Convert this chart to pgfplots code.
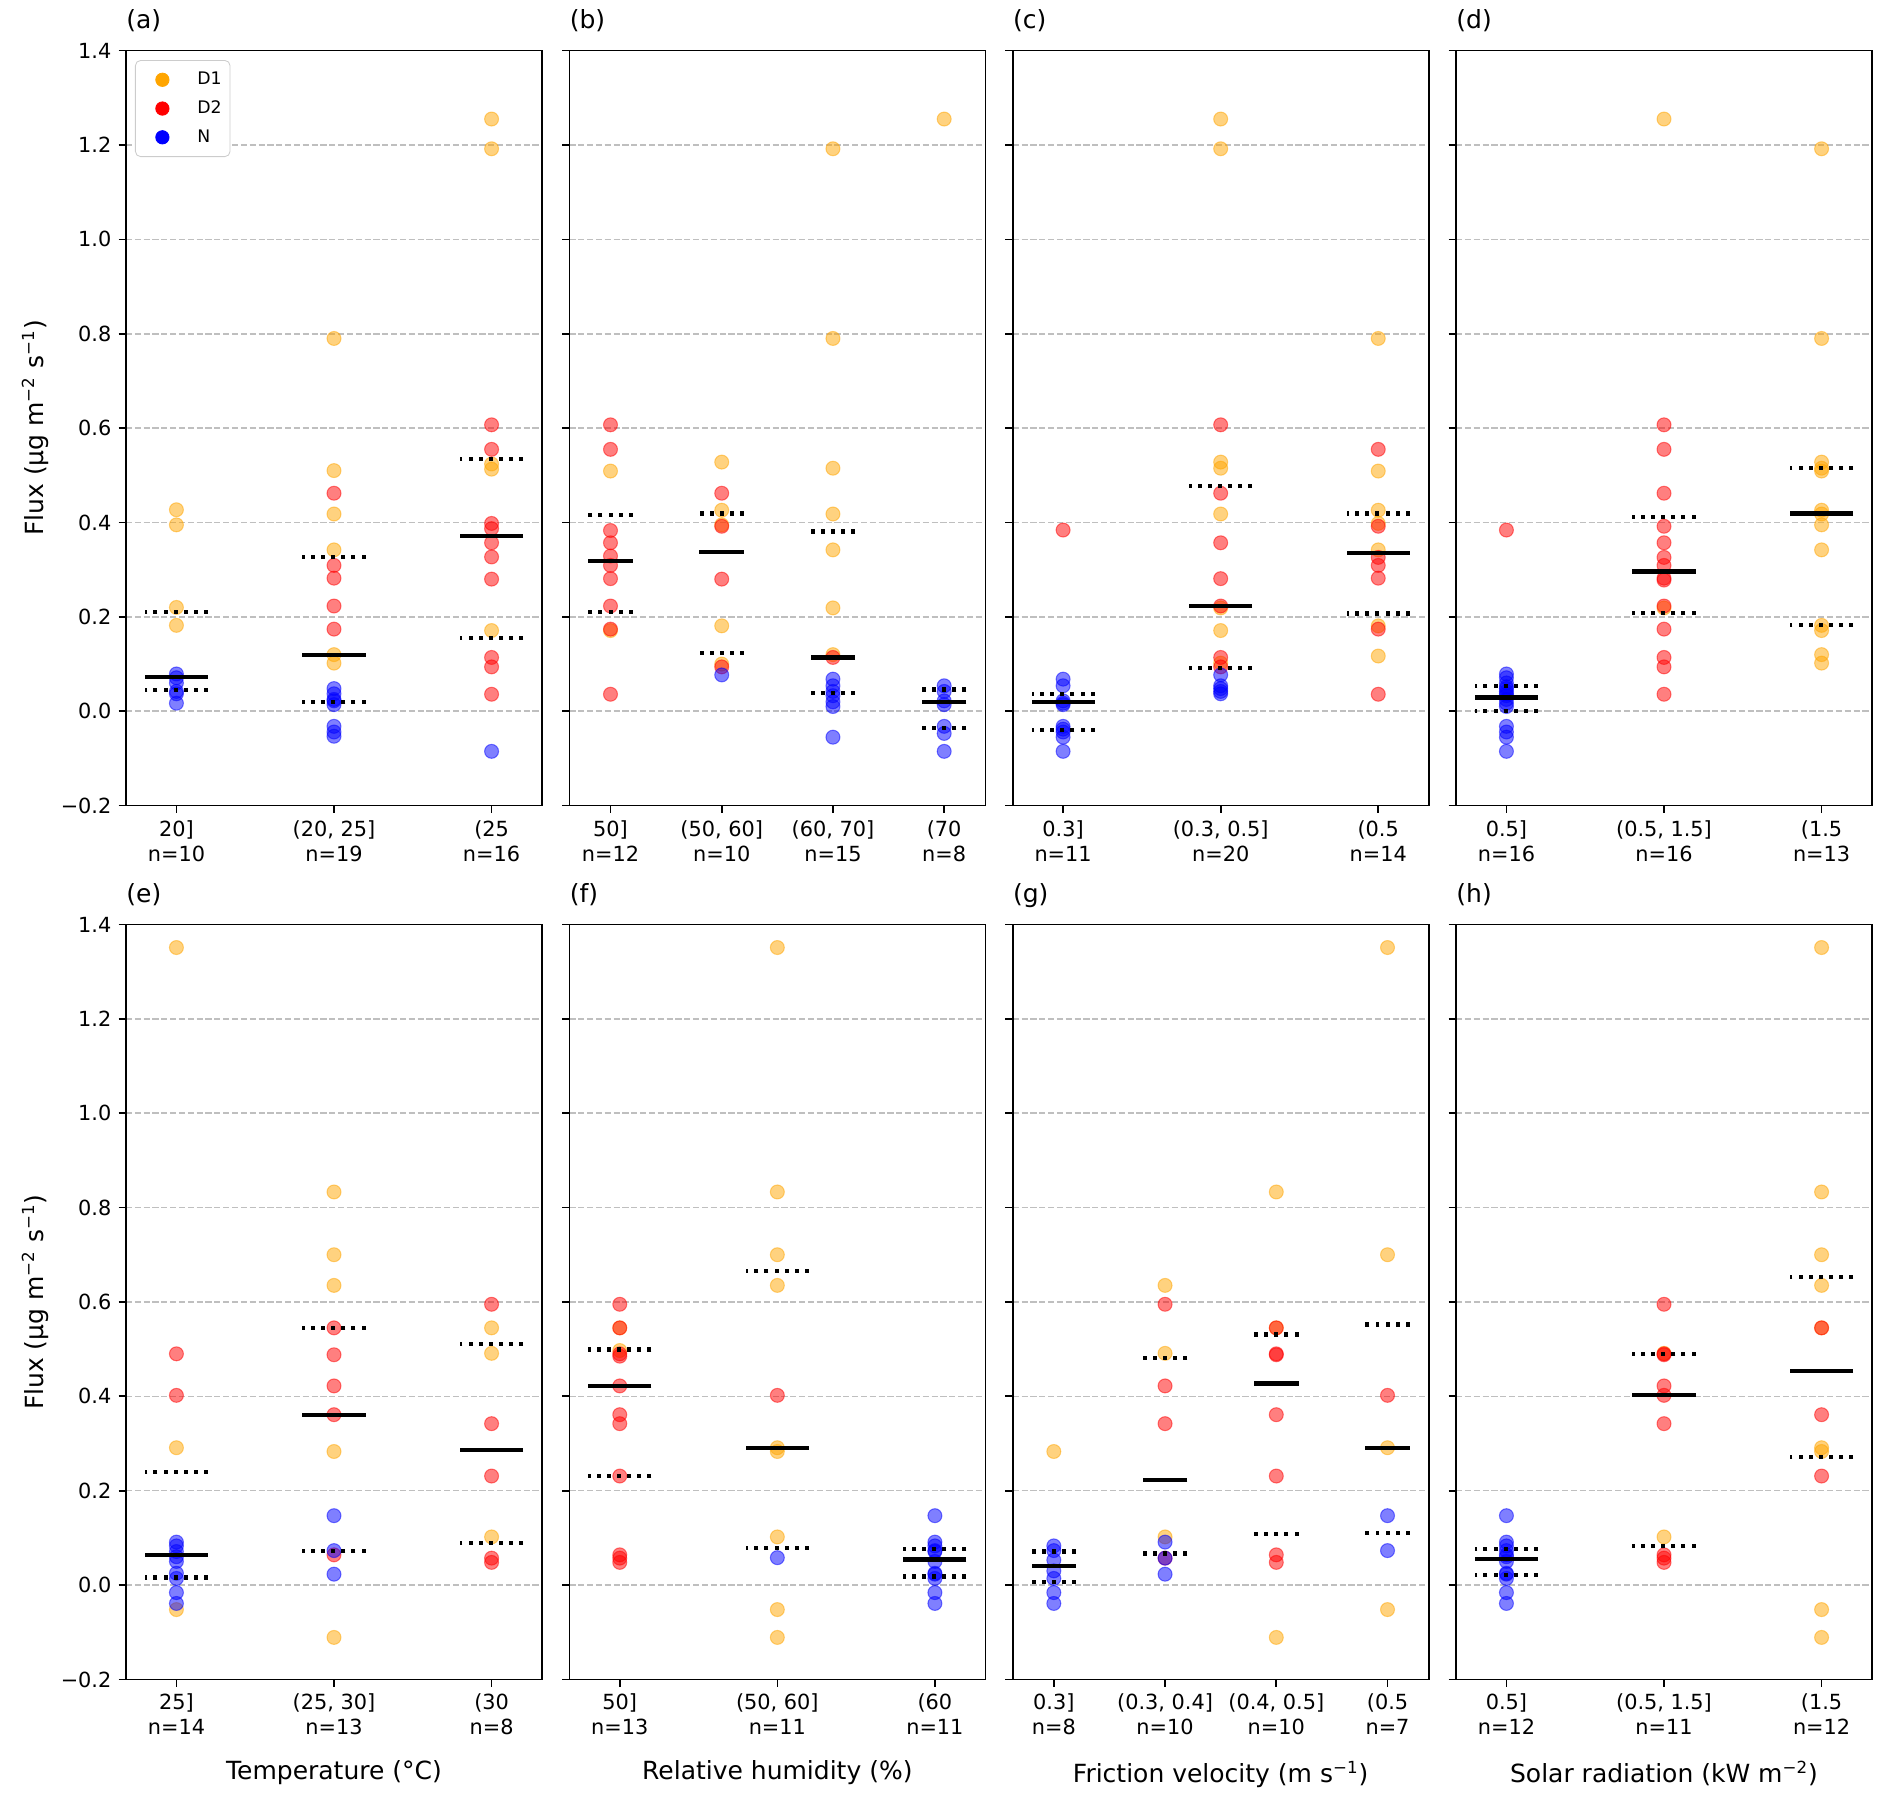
\documentclass[border=0pt]{standalone}
\usepackage{fontspec}
\setmainfont{DejaVu Sans}
\usepackage{pgfplots}
\pgfplotsset{compat=1.18}
\definecolor{cD1}{RGB}{255,165,0}
\definecolor{cD2}{RGB}{255,0,0}
\definecolor{cN}{RGB}{0,0,255}
\pgfplotsset{
  panel/.style={
    scale only axis, width=199.68pt, height=362.4pt,
    ymin=-0.2, ymax=1.4,
    ytick={-0.2,0,0.2,0.4,0.6,0.8,1.0,1.2,1.4},
    yticklabels={},
    ymajorgrids,
    grid style={black!25, line width=0.75pt, dash pattern=on 2.96pt off 1.28pt},
    tick pos=left, tick align=outside, major tick length=3.5pt,
    axis line style={line width=0.8pt},
    tick style={black, line width=0.8pt},
    tick label style={font=\fontsize{10}{12}\selectfont},
    xticklabel style={align=center},
    title style={at={(0,1)}, anchor=base west, yshift=4.6pt, inner sep=0pt, font=\fontsize{12}{14.4}\selectfont},
    clip=false,
  },
  three/.style={panel, xmin=-0.32, xmax=2.32, xtick={0,1,2}},
  four/.style={panel, xmin=-0.37, xmax=3.37, xtick={0,1,2,3}},
  ylab/.style={yticklabels={−0.2,0.0,0.2,0.4,0.6,0.8,1.0,1.2,1.4}},
  d1/.style={only marks, mark=*, mark size=3.35pt, mark options={draw=cD1, fill=cD1, opacity=0.5, line width=0.5pt}, forget plot},
  d2/.style={only marks, mark=*, mark size=3.35pt, mark options={draw=cD2, fill=cD2, opacity=0.5, line width=0.5pt}, forget plot},
  dn/.style={only marks, mark=*, mark size=3.35pt, mark options={draw=cN, fill=cN, opacity=0.5, line width=0.5pt}, forget plot},
  medA/.style={only marks, mark=-, mark size=15.127pt, mark options={black, line width=2pt, solid}, forget plot},
  qA/.style={only marks, mark=-, mark size=15.127pt, mark options={black, line width=2pt, dash pattern=on 1.9pt off 2.95pt}, forget plot},
  medB/.style={only marks, mark=-, mark size=10.678pt, mark options={black, line width=2pt, solid}, forget plot},
  qB/.style={only marks, mark=-, mark size=10.678pt, mark options={black, line width=2pt, dash pattern=on 1.9pt off 2.95pt}, forget plot},
  legimg/.style={mark=*, mark size=3.2pt, draw=none, mark options={draw=#1, fill=#1, solid},
    legend image code/.code={\path (0pt,0pt) (21.92pt,0pt); \draw[##1] plot coordinates {(10.96pt,0pt)};}},
}
\begin{document}
\begin{tikzpicture}
\path[use as bounding box] (0,0) rectangle (908.16pt,-868.32pt);
% ---------- (a)
\begin{axis}[three, ylab, at={(60.48pt,-24.29pt)}, anchor=north west, title={(a)},
  xticklabels={{20]\\n=10},{(20, 25]\\n=19},{(25\\n=16}},
  legend style={at={(0.0216,0.9875)}, anchor=north west, draw=black!20, rounded corners=2.5pt,
    font=\fontsize{8.3}{10}\selectfont, row sep=2.2pt, fill=white,
    inner xsep=2pt, inner ysep=3.5pt, column sep=3.84pt, nodes={inner sep=2pt}},
  legend cell align=left]
\addlegendimage{legimg=cD1}
\addlegendentry{D1}
\addlegendimage{legimg=cD2}
\addlegendentry{D2}
\addlegendimage{legimg=cN}
\addlegendentry{N}
\addplot[d1] coordinates {(0,0.427)(0,0.395)(0,0.220)(0,0.182)(1,0.790)(1,0.510)(1,0.418)(1,0.342)(1,0.120)(1,0.102)(2,1.255)(2,1.192)(2,0.524)(2,0.513)(2,0.171)};
\addplot[d2] coordinates {(1,0.462)(1,0.309)(1,0.282)(1,0.223)(1,0.174)(2,0.607)(2,0.555)(2,0.398)(2,0.387)(2,0.357)(2,0.327)(2,0.280)(2,0.114)(2,0.094)(2,0.036)};
\addplot[dn] coordinates {(0,0.079)(0,0.071)(0,0.060)(0,0.042)(0,0.037)(0,0.017)(1,0.048)(1,0.037)(1,0.025)(1,0.022)(1,0.014)(1,-0.032)(1,-0.044)(1,-0.053)(2,-0.085)};
\addplot[medA] coordinates {(0,0.072)(1,0.119)(2,0.372)};
\addplot[qA] coordinates {(0,0.210)(0,0.045)(1,0.326)(1,0.020)(2,0.535)(2,0.156)};
\end{axis}
% ---------- (b)
\begin{axis}[four, at={(273.28pt,-24.29pt)}, anchor=north west, title={(b)},
  xticklabels={{50]\\n=12},{(50, 60]\\n=10},{(60, 70]\\n=15},{(70\\n=8}}]
\addplot[d1] coordinates {(0,0.509)(0,0.171)(1,0.528)(1,0.426)(1,0.395)(1,0.181)(1,0.100)(2,1.192)(2,0.790)(2,0.515)(2,0.418)(2,0.342)(2,0.219)(2,0.120)(3,1.255)};
\addplot[d2] coordinates {(0,0.607)(0,0.555)(0,0.383)(0,0.357)(0,0.329)(0,0.309)(0,0.281)(0,0.223)(0,0.174)(0,0.036)(1,0.462)(1,0.392)(1,0.280)(1,0.094)(2,0.114)};
\addplot[dn] coordinates {(1,0.077)(2,0.068)(2,0.054)(2,0.042)(2,0.033)(2,0.020)(2,0.010)(2,-0.055)(3,0.054)(3,0.042)(3,0.022)(3,0.014)(3,-0.032)(3,-0.047)(3,-0.085)};
\addplot[medB] coordinates {(0,0.318)(1,0.337)(2,0.114)(3,0.020)};
\addplot[qB] coordinates {(0,0.415)(0,0.211)(1,0.419)(1,0.123)(2,0.381)(2,0.039)(3,0.046)(3,-0.036)};
\end{axis}
% ---------- (c)
\begin{axis}[three, at={(486.08pt,-24.29pt)}, anchor=north west, title={(c)},
  xticklabels={{0.3]\\n=11},{(0.3, 0.5]\\n=20},{(0.5\\n=14}}]
\addplot[d1] coordinates {(1,1.255)(1,1.192)(1,0.528)(1,0.515)(1,0.418)(1,0.219)(1,0.171)(1,0.102)(2,0.790)(2,0.509)(2,0.426)(2,0.398)(2,0.342)(2,0.181)(2,0.117)};
\addplot[d2] coordinates {(0,0.384)(1,0.607)(1,0.462)(1,0.357)(1,0.281)(1,0.223)(1,0.114)(1,0.094)(2,0.555)(2,0.392)(2,0.326)(2,0.309)(2,0.282)(2,0.174)(2,0.036)};
\addplot[dn] coordinates {(0,0.068)(0,0.054)(0,0.022)(0,0.017)(0,0.014)(0,-0.032)(0,-0.038)(0,-0.044)(0,-0.055)(0,-0.085)(1,0.077)(1,0.054)(1,0.048)(1,0.042)(1,0.037)};
\addplot[medA] coordinates {(0,0.020)(1,0.223)(2,0.335)};
\addplot[qA] coordinates {(0,0.037)(0,-0.039)(1,0.477)(1,0.091)(2,0.419)(2,0.207)};
\end{axis}
% ---------- (d)
\begin{axis}[three, at={(698.88pt,-24.29pt)}, anchor=north west, title={(d)},
  xticklabels={{0.5]\\n=16},{(0.5, 1.5]\\n=16},{(1.5\\n=13}}]
\addplot[d1] coordinates {(1,1.255)(1,0.219)(2,1.192)(2,0.790)(2,0.528)(2,0.515)(2,0.509)(2,0.426)(2,0.418)(2,0.395)(2,0.342)(2,0.182)(2,0.171)(2,0.120)(2,0.102)};
\addplot[d2] coordinates {(0,0.384)(1,0.607)(1,0.555)(1,0.462)(1,0.392)(1,0.357)(1,0.326)(1,0.309)(1,0.282)(1,0.278)(1,0.223)(1,0.174)(1,0.114)(1,0.094)(1,0.036)};
\addplot[dn] coordinates {(0,0.079)(0,0.071)(0,0.060)(0,0.052)(0,0.048)(0,0.042)(0,0.037)(0,0.033)(0,0.025)(0,0.017)(0,0.010)(0,-0.032)(0,-0.044)(0,-0.055)(0,-0.085)};
\addplot[medA] coordinates {(0,0.029)(1,0.296)(2,0.419)};
\addplot[qA] coordinates {(0,0.054)(0,0.001)(1,0.412)(1,0.208)(2,0.515)(2,0.182)};
\end{axis}
% ---------- (e)
\begin{axis}[three, ylab, at={(60.48pt,-443.71pt)}, anchor=north west, title={(e)},
  xticklabels={{25]\\n=14},{(25, 30]\\n=13},{(30\\n=8}}]
\addplot[d1] coordinates {(0,1.351)(0,0.291)(0,-0.052)(1,0.833)(1,0.700)(1,0.635)(1,0.283)(1,-0.111)(2,0.545)(2,0.491)(2,0.102)};
\addplot[d2] coordinates {(0,0.490)(0,0.402)(1,0.545)(1,0.488)(1,0.422)(1,0.361)(1,0.064)(2,0.595)(2,0.342)(2,0.231)(2,0.057)(2,0.048)};
\addplot[dn] coordinates {(0,0.091)(0,0.083)(0,0.071)(0,0.060)(0,0.050)(0,0.025)(0,0.014)(0,-0.016)(0,-0.039)(1,0.147)(1,0.073)(1,0.023)};
\addplot[medA] coordinates {(0,0.063)(1,0.361)(2,0.287)};
\addplot[qA] coordinates {(0,0.240)(0,0.016)(1,0.545)(1,0.073)(2,0.511)(2,0.089)};
\end{axis}
% ---------- (f)
\begin{axis}[three, at={(273.28pt,-443.71pt)}, anchor=north west, title={(f)},
  xticklabels={{50]\\n=13},{(50, 60]\\n=11},{(60\\n=11}}]
\addplot[d1] coordinates {(0,0.545)(0,0.497)(1,1.351)(1,0.833)(1,0.700)(1,0.635)(1,0.291)(1,0.283)(1,0.102)(1,-0.052)(1,-0.111)};
\addplot[d2] coordinates {(0,0.595)(0,0.545)(0,0.490)(0,0.485)(0,0.422)(0,0.361)(0,0.342)(0,0.231)(0,0.064)(0,0.057)(0,0.048)(1,0.402)};
\addplot[dn] coordinates {(1,0.058)(2,0.147)(2,0.091)(2,0.083)(2,0.073)(2,0.071)(2,0.050)(2,0.025)(2,0.023)(2,0.014)(2,-0.016)(2,-0.039)};
\addplot[medA] coordinates {(0,0.421)(1,0.291)(2,0.054)};
\addplot[qA] coordinates {(0,0.499)(0,0.231)(1,0.666)(1,0.079)(2,0.076)(2,0.018)};
\end{axis}
% ---------- (g)
\begin{axis}[four, at={(486.08pt,-443.71pt)}, anchor=north west, title={(g)},
  xticklabels={{0.3]\\n=8},{(0.3, 0.4]\\n=10},{(0.4, 0.5]\\n=10},{(0.5\\n=7}}]
\addplot[d1] coordinates {(0,0.283)(1,0.635)(1,0.491)(1,0.102)(2,0.833)(2,0.545)(2,-0.111)(3,1.351)(3,0.700)(3,0.291)(3,-0.052)};
\addplot[d2] coordinates {(1,0.595)(1,0.422)(1,0.342)(1,0.057)(2,0.545)(2,0.490)(2,0.488)(2,0.361)(2,0.231)(2,0.064)(2,0.048)(3,0.402)};
\addplot[dn] coordinates {(0,0.083)(0,0.073)(0,0.053)(0,0.030)(0,0.014)(0,-0.016)(0,-0.039)(1,0.091)(1,0.057)(1,0.023)(3,0.147)(3,0.073)};
\addplot[medB] coordinates {(0,0.040)(1,0.222)(2,0.427)(3,0.291)};
\addplot[qB] coordinates {(0,0.071)(0,0.007)(1,0.482)(1,0.067)(2,0.531)(2,0.108)(3,0.552)(3,0.110)};
\end{axis}
% ---------- (h)
\begin{axis}[three, at={(698.88pt,-443.71pt)}, anchor=north west, title={(h)},
  xticklabels={{0.5]\\n=12},{(0.5, 1.5]\\n=11},{(1.5\\n=12}}]
\addplot[d1] coordinates {(1,0.491)(1,0.102)(2,1.351)(2,0.833)(2,0.700)(2,0.635)(2,0.545)(2,0.291)(2,0.283)(2,-0.052)(2,-0.111)};
\addplot[d2] coordinates {(1,0.595)(1,0.490)(1,0.488)(1,0.422)(1,0.402)(1,0.342)(1,0.064)(1,0.057)(1,0.048)(2,0.545)(2,0.361)(2,0.231)};
\addplot[dn] coordinates {(0,0.147)(0,0.091)(0,0.083)(0,0.073)(0,0.064)(0,0.060)(0,0.050)(0,0.025)(0,0.023)(0,0.014)(0,-0.016)(0,-0.039)};
\addplot[medA] coordinates {(0,0.055)(1,0.403)(2,0.453)};
\addplot[qA] coordinates {(0,0.076)(0,0.021)(1,0.490)(1,0.083)(2,0.653)(2,0.271)};
\end{axis}
% ---------- labels
\node[rotate=90, font=\fontsize{12}{14.4}\selectfont] at (16.8pt,-205.4pt) {Flux (µg m\textsuperscript{−2} s\textsuperscript{−1})};
\node[rotate=90, font=\fontsize{12}{14.4}\selectfont] at (16.8pt,-625pt) {Flux (µg m\textsuperscript{−2} s\textsuperscript{−1})};
\node[anchor=base, inner sep=0pt, font=\fontsize{12}{14.4}\selectfont] at (160.32pt,-854.2pt) {Temperature (°C)};
\node[anchor=base, inner sep=0pt, font=\fontsize{12}{14.4}\selectfont] at (373.12pt,-854.2pt) {Relative humidity (\%)};
\node[anchor=base, inner sep=0pt, font=\fontsize{12}{14.4}\selectfont] at (585.92pt,-855.4pt) {Friction velocity (m s\textsuperscript{−1})};
\node[anchor=base, inner sep=0pt, font=\fontsize{12}{14.4}\selectfont] at (798.72pt,-855.4pt) {Solar radiation (kW m\textsuperscript{−2})};
\end{tikzpicture}
\end{document}
